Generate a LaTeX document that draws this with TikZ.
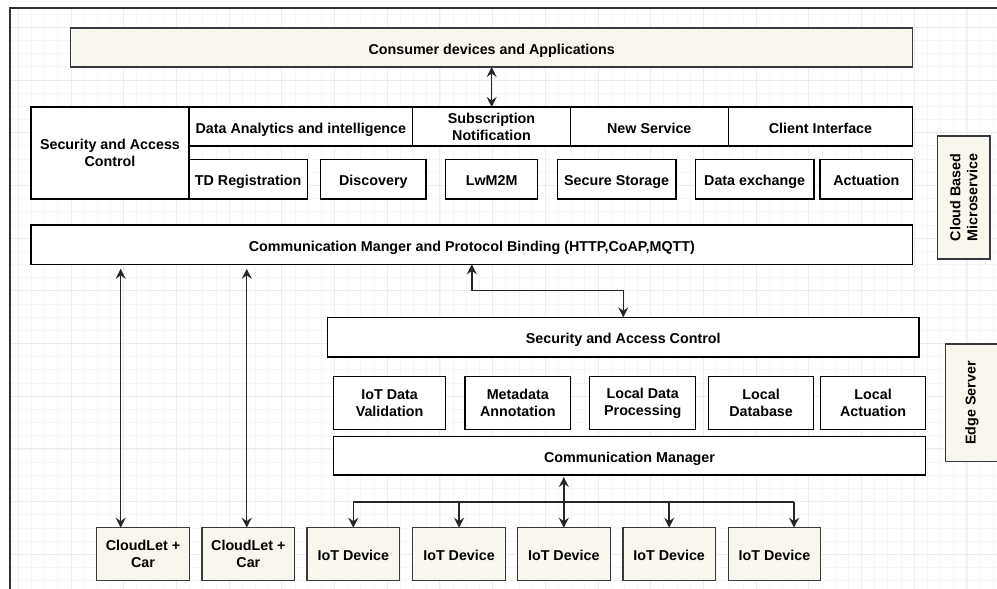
\documentclass[tikz,border=0pt]{standalone}
\usepackage{fontspec}
\setmainfont{Liberation Sans}
\usetikzlibrary{arrows.meta}
\definecolor{beige}{HTML}{F9F7ED}
\definecolor{beigeline}{HTML}{36393D}
\definecolor{gridminor}{HTML}{F6F6F6}
\definecolor{gridmajor}{HTML}{ECECEC}
\definecolor{frameline}{HTML}{333333}

\begin{document}
\begin{tikzpicture}[x=1pt,y=-1pt,
  lbl/.style={font=\bfseries\fontsize{14.3}{17}\selectfont, align=center, text=black},
  box/.style={lbl, draw=black, line width=1.3pt, fill=white, inner sep=0pt, outer sep=0pt},
  tanbox/.style={box, fill=beige, draw=beigeline, line width=1.1pt},
  one/.style={text height=13pt, text depth=0pt},
  span/.style n args={4}{minimum width={#3-#1}, minimum height={#4-#2},
    at={({(#1+#3)/2},{(#2+#4)/2})}},
  head/.tip={Stealth[length=10pt,width=10pt,inset=3.5pt]},
  link/.style={line width=1.4pt, draw=black!85},
  twoway/.style={link, head-head},
  oneway/.style={link, -head}
]
\useasboundingbox (0,0) rectangle (997,589);

% background grid inside the page frame
\begin{scope}
  \clip (10,8) rectangle (997,589);
  \foreach \i in {-5,...,72} {
    \draw[gridminor, line width=0.8pt] ({71+13.175*\i},8) -- ++(0,590);
  }
  \foreach \i in {-6,...,40} {
    \draw[gridminor, line width=0.8pt] (10,{80+13.175*\i}) -- ++(990,0);
  }
  \foreach \i in {-1,...,18} {
    \draw[gridmajor, line width=0.9pt] ({71+52.7*\i},8) -- ++(0,590);
  }
  \foreach \i in {-1,...,10} {
    \draw[gridmajor, line width=0.9pt] (10,{80+52.7*\i}) -- ++(990,0);
  }
\end{scope}
\draw[frameline, line width=1.5pt] (10,600) -- (10,8) -- (1005,8);

% cloud tier
\node[tanbox, one, span={70.7}{28}{912.7}{67}] (consumer) {Consumer devices and Applications};
\node[box, span={31}{107}{189}{199}] (sac) {Security and Access\\Control};
\node[box, one, span={189}{107}{412.7}{146}] (dai) {Data Analytics and intelligence};
\node[box, span={412.7}{107}{570.3}{146}] (sub) {Subscription\\Notification};
\node[box, one, span={570.3}{107}{728.3}{146}] (news) {New Service};
\node[box, one, span={728.3}{107}{912.7}{146}] (client) {Client Interface};
\node[box, one, span={189}{159.5}{307.3}{199}] (tdr) {TD Registration};
\node[box, one, span={320.7}{159.5}{426}{199}] (disc) {Discovery};
\node[box, one, span={445.7}{159.5}{537.7}{199}] (lwm) {LwM2M};
\node[box, one, span={557.3}{159.5}{676}{199}] (sst) {Secure Storage};
\node[box, one, span={695.3}{159.5}{814}{199}] (dex) {Data exchange};
\node[box, one, span={820}{159.5}{912.7}{199}] (act) {Actuation};
\node[box, one, span={31}{225}{912.7}{264.3}] (cmpb) {Communication Manger and Protocol Binding (HTTP,CoAP,MQTT)};
\node[tanbox, span={937.7}{136}{990}{259}] (cloud) {};
\node[lbl, rotate=90] (cloudtxt) at (cloud.center) {Cloud Based\\Microservice};

% edge tier
\node[box, one, span={327.5}{317.3}{919}{357}] (esac) {Security and Access Control};
\node[box, span={333.3}{376.7}{445.8}{429.3}] (idv) {IoT Data\\Validation};
\node[box, span={464.9}{376.7}{570.7}{429.3}] (meta) {Metadata\\Annotation};
\node[box, span={589.8}{376.7}{695.6}{429.3}] (ldp) {Local Data\\Processing};
\node[box, span={708.4}{376.7}{813.8}{429.3}] (ldb) {Local\\Database};
\node[box, span={820.4}{376.7}{925.8}{429.3}] (lact) {Local\\Actuation};
\node[box, one, span={333.3}{436.5}{925.8}{475}] (cm) {Communication Manager};
\node[tanbox, span={945.7}{344}{999}{461.7}] (edge) {};
\node[lbl, rotate=90] (edgetxt) at ([xshift=-0.5pt]edge.center) {Edge Server};

% devices
\node[tanbox, span={96.7}{527.7}{189.3}{580.7}] (cl1) {CloudLet +\\Car};
\node[tanbox, span={202}{527.7}{294.7}{580.7}] (cl2) {CloudLet +\\Car};
\node[tanbox, one, span={307}{527.7}{399.7}{580.7}] (iot1) {IoT Device};
\node[tanbox, one, span={412.7}{527.7}{505.4}{580.7}] (iot2) {IoT Device};
\node[tanbox, one, span={517.3}{527.7}{610.3}{580.7}] (iot3) {IoT Device};
\node[tanbox, one, span={623}{527.7}{715.3}{580.7}] (iot4) {IoT Device};
\node[tanbox, one, span={728.3}{527.7}{820.7}{580.7}] (iot5) {IoT Device};

% connectors
\draw[twoway] (consumer.south) -- (consumer.south |- sub.north);
\draw[twoway] (cmpb.south) -- ++(0,26.4) -| (esac.north);
\draw[twoway, shorten <=4.5pt] ([xshift=-22.3pt]cl1.north |- cmpb.south) -- ([xshift=-22.3pt]cl1.north);
\draw[twoway, shorten <=4.5pt] ([xshift=-1.6pt]cl2.north |- cmpb.south) -- ([xshift=-1.6pt]cl2.north);

\coordinate (bus) at (0,502);
\coordinate (iot5in) at ([xshift=19.5pt]iot5.north);
\draw[twoway, shorten <=2pt] (iot3.north |- cm.south) -- (iot3.north);
\draw[link] (iot1.north |- bus) -- (iot5in |- bus);
\draw[oneway] (iot1.north |- bus) -- (iot1.north);
\draw[oneway] (iot2.north |- bus) -- (iot2.north);
\draw[oneway] (iot4.north |- bus) -- (iot4.north);
\draw[oneway] (iot5in |- bus) -- (iot5in);
\end{tikzpicture}
\end{document}
